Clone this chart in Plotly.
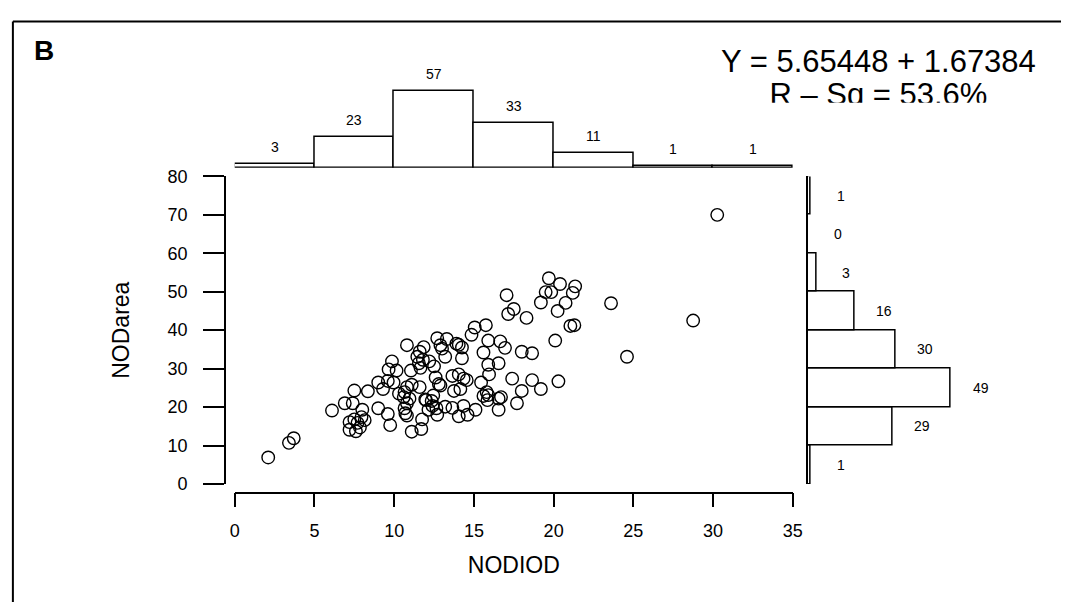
import plotly.graph_objects as go

W, H = 1071, 612

# ---- data ----
nodiod = [
    2.1, 3.4, 3.7,
    6.1, 6.9, 7.4, 7.5, 8.35, 8.0, 7.2, 7.5, 7.7, 8.15, 7.2, 7.6, 7.85, 7.95,
    9.0, 9.6, 9.75, 9.86, 9.65, 9.0, 9.3, 9.6, 9.96,
    10.8, 10.15, 11.05, 10.3, 10.6, 10.8, 11.1, 11.6, 10.8, 10.7, 10.8, 11.1,
    11.7, 11.75, 11.95, 11.45, 11.55, 11.85, 11.65, 10.96, 10.65, 10.65, 11.8,
    12.7, 13.3, 12.9, 13.0, 14.05, 14.25, 13.2, 14.25, 12.2, 12.5,
    13.65, 14.05, 14.35, 14.55, 13.75, 14.15, 12.6, 12.8,
    12.0, 12.35, 12.4, 12.15, 12.65, 13.2, 13.65, 14.35, 14.6, 14.05, 12.7,
    14.85, 12.9, 12.45, 13.9, 11.6,
    15.75, 15.05, 15.9, 16.65, 16.95, 15.6, 18.0, 18.65, 15.9, 16.55,
    17.05, 19.2, 17.5, 17.15, 18.3, 19.7, 19.5, 19.85,
    15.95, 17.4, 18.65, 18.0, 19.2, 17.7, 15.45, 15.8, 15.9, 15.85,
    16.55, 16.7, 16.55, 15.1, 15.6,
    20.4, 21.35, 21.2, 20.75, 20.25, 21.05, 21.3, 20.1, 20.3, 23.6, 24.6,
    28.75, 30.26,
]
nodarea = [
    6.9, 10.7, 11.9,
    19.1, 21.0, 21.0, 24.3, 24.1, 19.3, 16.1, 16.8, 15.9, 16.6, 14.1, 13.7, 14.7, 17.4,
    19.7, 18.2, 15.3, 31.9, 29.8, 26.4, 24.7, 26.8, 26.4,
    36.1, 29.5, 29.5, 23.5, 22.6, 25.2, 25.8, 25.2, 21.0, 18.4, 17.8, 13.6,
    14.3, 16.8, 22.0, 33.1, 31.4, 35.6, 30.2, 22.2, 23.9, 19.7, 32.3,
    37.9, 37.7, 36.1, 35.2, 36.2, 35.5, 33.1, 32.7, 31.9, 30.6,
    28.1, 28.5, 27.4, 27.0, 24.2, 24.7, 27.7, 26.0,
    21.8, 21.6, 20.3, 19.3, 19.7, 20.1, 19.8, 20.3, 18.0, 17.6, 18.0,
    38.8, 25.6, 23.0, 36.5, 34.4,
    41.3, 40.7, 37.3, 37.1, 35.4, 34.2, 34.4, 34.0, 31.0, 31.4,
    49.1, 47.2, 45.5, 44.2, 43.2, 53.5, 49.9, 49.9,
    28.5, 27.4, 27.0, 24.2, 24.7, 21.0, 26.4, 23.9, 23.1, 21.8,
    22.2, 22.6, 19.3, 19.3, 22.9,
    52.0, 51.4, 49.7, 47.1, 45.0, 41.1, 41.3, 37.3, 26.7, 47.0, 33.1,
    42.5, 70.0,
]

x_bin_centers = [2.5, 7.5, 12.5, 17.5, 22.5, 27.5, 32.5]
x_bin_counts = [3, 23, 57, 33, 11, 1, 1]
y_bin_centers = [5, 15, 25, 35, 45, 55, 65, 75]
y_bin_counts = [1, 29, 49, 30, 16, 3, 0, 1]

x_ticks = [0, 5, 10, 15, 20, 25, 30, 35]
y_ticks = [0, 10, 20, 30, 40, 50, 60, 70, 80]

x_title = "NODIOD"
y_title = "NODarea"
panel_label = "B"
eq_lines = ["Y = 5.65448 + 1.67384", "R – Sq = 53.6%"]

FONT = "Liberation Sans, Arial, sans-serif"


def px_x(p):
    return p / W


def px_y(p):
    return 1 - p / H


fig = go.Figure()

fig.add_trace(go.Scatter(
    x=nodiod, y=nodarea, mode="markers",
    marker=dict(symbol="circle-open", size=12.5, color="black", line=dict(width=1.4, color="black")),
    xaxis="x", yaxis="y", cliponaxis=False, showlegend=False,
))

fig.add_trace(go.Bar(
    x=x_bin_centers, y=x_bin_counts, width=5,
    marker=dict(color="white", line=dict(color="black", width=1.5)),
    xaxis="x2", yaxis="y2", showlegend=False,
))

fig.add_trace(go.Bar(
    x=y_bin_counts, y=y_bin_centers, width=10, orientation="h",
    marker=dict(color="white", line=dict(color="black", width=1.5)),
    xaxis="x3", yaxis="y3", showlegend=False,
))

fig.add_trace(go.Scatter(
    x=[0.545, 0.545], y=[0.532, 0.07], mode="text", text=eq_lines,
    textposition="middle center", textfont=dict(family=FONT, size=31, color="black"),
    xaxis="x4", yaxis="y4", cliponaxis=True, showlegend=False, hoverinfo="skip",
))

annotations = []
for c, n in zip(x_bin_centers, x_bin_counts):
    annotations.append(dict(x=c, y=n, xref="x2", yref="y2", text=str(n), showarrow=False,
                            yshift=17, font=dict(family=FONT, size=14, color="black")))
for c, n in zip(y_bin_centers, y_bin_counts):
    annotations.append(dict(x=n, y=c, xref="x3", yref="y3", text=str(n), showarrow=False,
                            xshift=30, font=dict(family=FONT, size=14, color="black")))
annotations.append(dict(x=px_x(27), y=px_y(42), xref="paper", yref="paper", text="<b>%s</b>" % panel_label,
                        showarrow=False, xanchor="left", yanchor="middle",
                        font=dict(family=FONT, size=28, color="black")))

shapes = [
    dict(type="line", xref="paper", yref="paper", x0=px_x(8), x1=1, y0=px_y(12), y1=px_y(12),
         line=dict(color="black", width=2)),
    dict(type="line", xref="paper", yref="paper", x0=px_x(8), x1=px_x(8), y0=px_y(12), y1=0,
         line=dict(color="black", width=2)),
]

axis_common = dict(showgrid=False, zeroline=False, linecolor="black", linewidth=1.5,
                   tickcolor="black", tickwidth=1.5, ticks="outside", showline=True,
                   tickfont=dict(family=FONT, size=18, color="black"))

fig.update_layout(
    width=W, height=H, margin=dict(l=0, r=0, t=0, b=0),
    paper_bgcolor="white", plot_bgcolor="white",
    bargap=0, showlegend=False,
    font=dict(family=FONT, color="black"),
    xaxis=dict(domain=[px_x(233), px_x(799)], range=[0, 35], anchor="free", position=px_y(499),
               tickvals=x_ticks, ticklen=14, ticklabelstandoff=8,
               title=dict(text=x_title, font=dict(family=FONT, size=23, color="black"), standoff=16),
               **axis_common),
    yaxis=dict(domain=[px_y(490), px_y(172)], range=[0, 80], anchor="free", position=px_x(223),
               tickvals=y_ticks, ticklen=21, ticklabelstandoff=12,
               title=dict(text=y_title, font=dict(family=FONT, size=23, color="black"), standoff=30),
               **axis_common),
    xaxis2=dict(domain=[px_x(233), px_x(799)], range=[0, 35], anchor="y2", visible=False),
    yaxis2=dict(domain=[px_y(163), px_y(60)], range=[0, 103 / 1.39], anchor="x2", visible=False),
    xaxis3=dict(domain=[px_x(814), px_x(1060)], range=[0, 246 / 2.96], anchor="y3", visible=False),
    yaxis3=dict(domain=[px_y(490), px_y(172)], range=[0, 80], anchor="x3", showline=True,
                linecolor="black", linewidth=1.5, showticklabels=False, ticks="",
                showgrid=False, zeroline=False),
    xaxis4=dict(domain=[px_x(664), 1], range=[0, 1], anchor="y4", visible=False),
    yaxis4=dict(domain=[px_y(96), px_y(20)], range=[0, 1], anchor="x4", visible=False),
    annotations=annotations,
    shapes=shapes,
)

fig.write_html("out.html", post_script="document.body.style.margin='0';")
